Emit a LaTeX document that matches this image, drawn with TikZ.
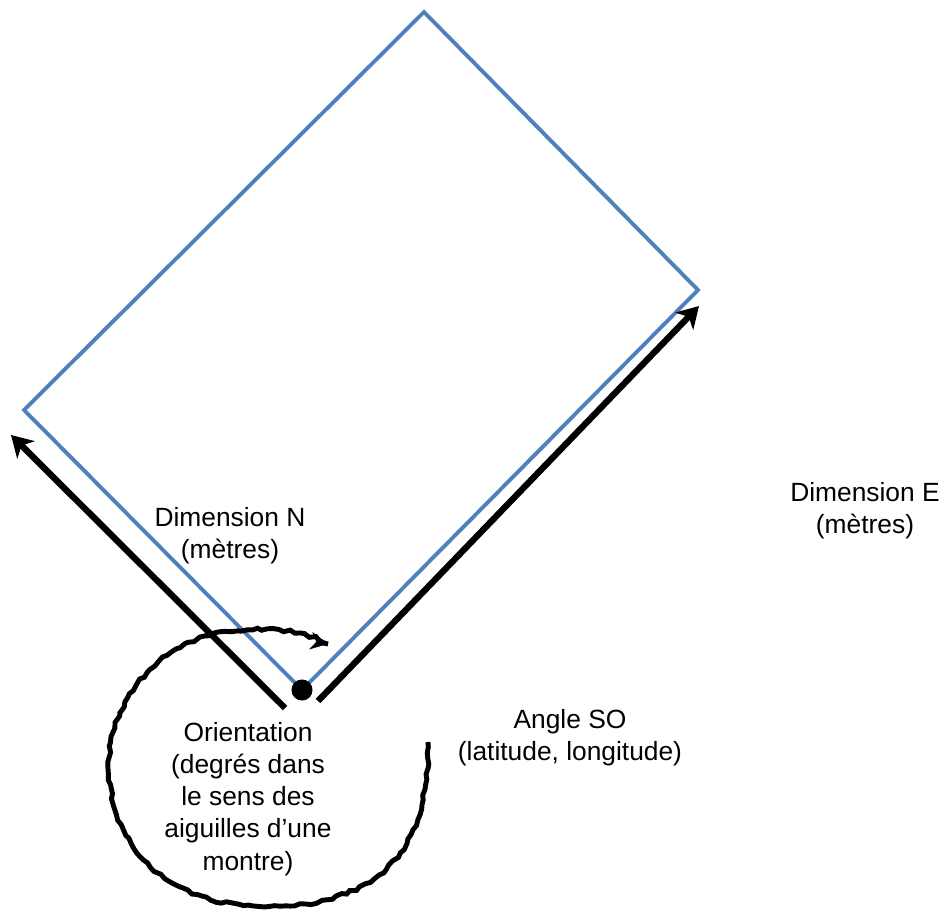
\documentclass[tikz,border=0pt]{standalone}
\usepackage{fontspec}
\setmainfont{Liberation Sans}
\usepackage{xcolor}
\usetikzlibrary{arrows.meta}
\usetikzlibrary{decorations.pathmorphing}
\definecolor{siteblue}{RGB}{79,129,189}
\tikzset{
  every node/.style={font=\fontsize{15}{18.3}\selectfont},
  every label/.style={font=\rmfamily}
}

\begin{document}
\begin{tikzpicture}[x=0.02cm,y=-0.02cm]
  \tikzset{
    side/.style={
      draw=siteblue,
      line width=2.2pt,
      line join=miter
    },
    dim/.style={
      draw=black,
      line width=3.6pt,
      -{Stealth[length=12pt, width=14pt, inset=3.5pt]}
    },
    turn/.style={
      draw=black,
      line width=2.8pt,
      decorate,
      decoration={random steps, segment length=3pt, amplitude=0.8pt},
      postaction={draw, decorate=false, line width=0.2pt,
        -{Stealth[length=10pt, width=10pt]}}
    },
    caption/.style={align=center, inner sep=0pt}
  }
  \pgfmathsetseed{7}
  \useasboundingbox (0,0) rectangle (942,912);

  \coordinate (so) at (302,690);
  \coordinate (no) at (24,410);
  \coordinate (ne) at (424,12);
  \coordinate (se) at (698,290);

  \draw[side] (so) -- (no) -- (ne) -- (se) -- cycle;

  \coordinate (nstart) at (285,708);
  \coordinate (nend) at (11,435);
  \coordinate (estart) at (318,701);
  \coordinate (eend) at (699,306);
  \draw[dim] (nstart) -- (nend);
  \draw[dim] (estart) -- (eend);

  \node[circle, fill=black, minimum size=12pt, inner sep=0pt] (corner) at (so) {};

  \coordinate (tstart) at (428,742);
  \coordinate (tend) at (328,644);
  \draw[turn] (tstart) .. controls (428,830) and (400,895) .. (290,906)
    .. controls (200,912) and (140,880) .. (115,810)
    .. controls (95,740) and (125,665) .. (205,636)
    .. controls (255,625) and (300,628) .. (tend);

  \node[caption] (dimn) at (230,536) {Dimension N\\(mètres)};
  \node[caption] (dime) at (865,511) {Dimension E\\(mètres)};
  \node[caption] (angle) at (570,738) {Angle SO\\(latitude, longitude)};
  \node[caption] (orient) at (248,799) {Orientation\\(degrés dans\\le sens des\\aiguilles d’une\\montre)};
\end{tikzpicture}
\end{document}
